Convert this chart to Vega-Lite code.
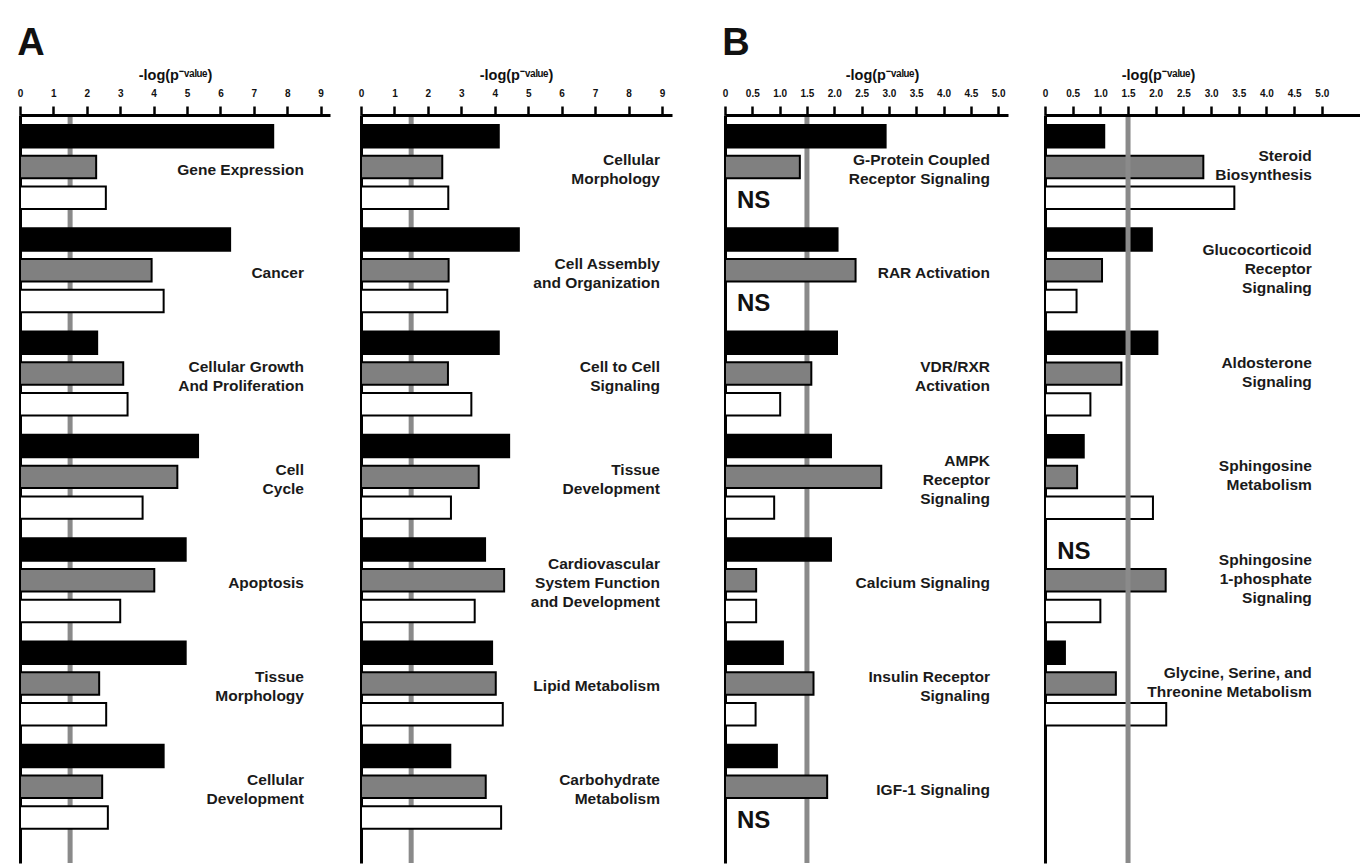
{
  "$schema": "https://vega.github.io/schema/vega-lite/v6.json",
  "padding": {"left": 17, "top": 25, "right": 0, "bottom": 0},
  "spacing": 50,
  "config": {
    "view": {"stroke": null},
    "font": "Liberation Sans",
    "axis": {"ticks": true, "tickSize": 9, "tickWidth": 2.5, "tickColor": "#000", "tickOpacity": 1, "zindex": 1},
    "axisX": {"orient": "top", "grid": false, "ticks": true, "domainWidth": 3, "domainColor": "#000", "tickWidth": 2.5, "tickColor": "#000", "tickSize": 9, "labelFontSize": 10, "labelFontWeight": "bold", "labelColor": "#111", "labelPadding": 8, "labelFlush": false, "labelOverlap": false, "titleFontSize": 14.5, "titleFontWeight": "bold", "titleColor": "#111", "titlePadding": 6, "zindex": 1},
    "axisY": {"title": null, "labels": false, "ticks": false, "grid": false, "domainWidth": 3, "domainColor": "#000"},
    "title": {"fontSize": 38, "fontWeight": "bold", "font": "Liberation Sans", "anchor": "start", "color": "#111"}
  },
  "datasets": {
    "a1": [
      {"cat": "Gene Expression", "series": "S1", "value": 7.58},
      {"cat": "Gene Expression", "series": "S2", "value": 2.28},
      {"cat": "Gene Expression", "series": "S3", "value": 2.57},
      {"cat": "Cancer", "series": "S1", "value": 6.29},
      {"cat": "Cancer", "series": "S2", "value": 3.94},
      {"cat": "Cancer", "series": "S3", "value": 4.30},
      {"cat": "Cellular Growth\nAnd Proliferation", "series": "S1", "value": 2.31},
      {"cat": "Cellular Growth\nAnd Proliferation", "series": "S2", "value": 3.09},
      {"cat": "Cellular Growth\nAnd Proliferation", "series": "S3", "value": 3.22},
      {"cat": "Cell\nCycle", "series": "S1", "value": 5.33},
      {"cat": "Cell\nCycle", "series": "S2", "value": 4.71},
      {"cat": "Cell\nCycle", "series": "S3", "value": 3.67},
      {"cat": "Apoptosis", "series": "S1", "value": 4.96},
      {"cat": "Apoptosis", "series": "S2", "value": 4.02},
      {"cat": "Apoptosis", "series": "S3", "value": 3.00},
      {"cat": "Tissue\nMorphology", "series": "S1", "value": 4.96},
      {"cat": "Tissue\nMorphology", "series": "S2", "value": 2.37},
      {"cat": "Tissue\nMorphology", "series": "S3", "value": 2.58},
      {"cat": "Cellular\nDevelopment", "series": "S1", "value": 4.30},
      {"cat": "Cellular\nDevelopment", "series": "S2", "value": 2.46},
      {"cat": "Cellular\nDevelopment", "series": "S3", "value": 2.63}
    ],
    "a2": [
      {"cat": "Cellular\nMorphology", "series": "S1", "value": 4.12},
      {"cat": "Cellular\nMorphology", "series": "S2", "value": 2.43},
      {"cat": "Cellular\nMorphology", "series": "S3", "value": 2.61},
      {"cat": "Cell Assembly\nand Organization", "series": "S1", "value": 4.72},
      {"cat": "Cell Assembly\nand Organization", "series": "S2", "value": 2.62},
      {"cat": "Cell Assembly\nand Organization", "series": "S3", "value": 2.58},
      {"cat": "Cell to Cell\nSignaling", "series": "S1", "value": 4.12},
      {"cat": "Cell to Cell\nSignaling", "series": "S2", "value": 2.60},
      {"cat": "Cell to Cell\nSignaling", "series": "S3", "value": 3.30},
      {"cat": "Tissue\nDevelopment", "series": "S1", "value": 4.43},
      {"cat": "Tissue\nDevelopment", "series": "S2", "value": 3.52},
      {"cat": "Tissue\nDevelopment", "series": "S3", "value": 2.69},
      {"cat": "Cardiovascular\nSystem Function\nand Development", "series": "S1", "value": 3.71},
      {"cat": "Cardiovascular\nSystem Function\nand Development", "series": "S2", "value": 4.28},
      {"cat": "Cardiovascular\nSystem Function\nand Development", "series": "S3", "value": 3.40},
      {"cat": "Lipid Metabolism", "series": "S1", "value": 3.92},
      {"cat": "Lipid Metabolism", "series": "S2", "value": 4.03},
      {"cat": "Lipid Metabolism", "series": "S3", "value": 4.24},
      {"cat": "Carbohydrate\nMetabolism", "series": "S1", "value": 2.67},
      {"cat": "Carbohydrate\nMetabolism", "series": "S2", "value": 3.73},
      {"cat": "Carbohydrate\nMetabolism", "series": "S3", "value": 4.19}
    ],
    "b1": [
      {"cat": "G-Protein Coupled\nReceptor Signaling", "series": "S1", "value": 2.94},
      {"cat": "G-Protein Coupled\nReceptor Signaling", "series": "S2", "value": 1.37},
      {"cat": "G-Protein Coupled\nReceptor Signaling", "series": "S3", "value": null, "ns": "NS"},
      {"cat": "RAR Activation", "series": "S1", "value": 2.06},
      {"cat": "RAR Activation", "series": "S2", "value": 2.39},
      {"cat": "RAR Activation", "series": "S3", "value": null, "ns": "NS"},
      {"cat": "VDR/RXR\nActivation", "series": "S1", "value": 2.05},
      {"cat": "VDR/RXR\nActivation", "series": "S2", "value": 1.58},
      {"cat": "VDR/RXR\nActivation", "series": "S3", "value": 1.01},
      {"cat": "AMPK\nReceptor\nSignaling", "series": "S1", "value": 1.94},
      {"cat": "AMPK\nReceptor\nSignaling", "series": "S2", "value": 2.86},
      {"cat": "AMPK\nReceptor\nSignaling", "series": "S3", "value": 0.90},
      {"cat": "Calcium Signaling", "series": "S1", "value": 1.94},
      {"cat": "Calcium Signaling", "series": "S2", "value": 0.57},
      {"cat": "Calcium Signaling", "series": "S3", "value": 0.57},
      {"cat": "Insulin Receptor\nSignaling", "series": "S1", "value": 1.06},
      {"cat": "Insulin Receptor\nSignaling", "series": "S2", "value": 1.62},
      {"cat": "Insulin Receptor\nSignaling", "series": "S3", "value": 0.56},
      {"cat": "IGF-1 Signaling", "series": "S1", "value": 0.95},
      {"cat": "IGF-1 Signaling", "series": "S2", "value": 1.87},
      {"cat": "IGF-1 Signaling", "series": "S3", "value": null, "ns": "NS"}
    ],
    "b2": [
      {"cat": "Steroid\nBiosynthesis", "series": "S1", "value": 1.07},
      {"cat": "Steroid\nBiosynthesis", "series": "S2", "value": 2.86},
      {"cat": "Steroid\nBiosynthesis", "series": "S3", "value": 3.42},
      {"cat": "Glucocorticoid\nReceptor\nSignaling", "series": "S1", "value": 1.93},
      {"cat": "Glucocorticoid\nReceptor\nSignaling", "series": "S2", "value": 1.03},
      {"cat": "Glucocorticoid\nReceptor\nSignaling", "series": "S3", "value": 0.57},
      {"cat": "Aldosterone\nSignaling", "series": "S1", "value": 2.03},
      {"cat": "Aldosterone\nSignaling", "series": "S2", "value": 1.38},
      {"cat": "Aldosterone\nSignaling", "series": "S3", "value": 0.82},
      {"cat": "Sphingosine\nMetabolism", "series": "S1", "value": 0.70},
      {"cat": "Sphingosine\nMetabolism", "series": "S2", "value": 0.58},
      {"cat": "Sphingosine\nMetabolism", "series": "S3", "value": 1.95},
      {"cat": "Sphingosine\n1-phosphate\nSignaling", "series": "S1", "value": null, "ns": "NS"},
      {"cat": "Sphingosine\n1-phosphate\nSignaling", "series": "S2", "value": 2.18},
      {"cat": "Sphingosine\n1-phosphate\nSignaling", "series": "S3", "value": 1.00},
      {"cat": "Glycine, Serine, and\nThreonine Metabolism", "series": "S1", "value": 0.36},
      {"cat": "Glycine, Serine, and\nThreonine Metabolism", "series": "S2", "value": 1.28},
      {"cat": "Glycine, Serine, and\nThreonine Metabolism", "series": "S3", "value": 2.19}
    ]
  },
  "hconcat": [
    {
      "title": {"text": "A", "offset": 4},
      "spacing": 28,
      "hconcat": [
        {
          "width": 310, "height": 748,
          "data": {"name": "a1"},
          "resolve": {"scale": {"yOffset": "independent"}},
          "layer": [
            {"data": {"values": [{}]}, "mark": {"type": "rule", "color": "#8a8a8a", "strokeWidth": 5},
             "encoding": {"x": {"datum": 1.5, "type": "quantitative", "scale": {"domain": [0, 9.28], "nice": false}, "axis": {"values": [0, 1, 2, 3, 4, 5, 6, 7, 8, 9], "title": "-log(p⁻ᵛᵃˡᵘᵉ)", "titleX": 155, "ticks": true, "tickSize": 9, "tickWidth": 2.5, "tickColor": "#000", "labelOverlap": false, "zindex": 1}}}},
            {"mark": {"type": "bar", "stroke": "#000", "strokeWidth": 2},
             "encoding": {
               "y": {"field": "cat", "type": "nominal", "sort": null, "scale": {"paddingInner": 0, "paddingOuter": 0.12, "align": 0.4}},
               "yOffset": {"field": "series", "type": "nominal", "scale": {"domain": ["S1", "S2", "S3"], "range": [0, 84], "paddingInner": 0.27, "paddingOuter": 0}},
               "x": {"field": "value", "type": "quantitative", "scale": {"domain": [0, 9.28], "nice": false}, "axis": {"values": [0, 1, 2, 3, 4, 5, 6, 7, 8, 9], "title": "-log(p⁻ᵛᵃˡᵘᵉ)", "titleX": 155, "ticks": true, "tickSize": 9, "tickWidth": 2.5, "tickColor": "#000", "labelOverlap": false, "zindex": 1}},
               "fill": {"field": "series", "type": "nominal", "scale": {"domain": ["S1", "S2", "S3"], "range": ["#000000", "#808080", "#ffffff"]}, "legend": null}
             }},
            {"transform": [{"filter": "datum.series == 'S2'"}, {"calculate": "length(split(datum.cat, '\\n'))", "as": "nlines"}],
             "mark": {"type": "text", "align": "right", "baseline": "middle", "fontSize": 15.5, "fontWeight": "bold", "lineBreak": "\n", "lineHeight": 19, "color": "#1a1a1a"},
             "encoding": {"y": {"field": "cat", "type": "nominal", "sort": null},
               "yOffset": {"field": "nlines", "type": "quantitative", "scale": {"domain": [1, 3], "range": [45, 26], "zero": false, "nice": false}},
               "x": {"datum": 8.5, "type": "quantitative", "axis": {"values": [0, 1, 2, 3, 4, 5, 6, 7, 8, 9], "title": "-log(p⁻ᵛᵃˡᵘᵉ)", "titleX": 155, "ticks": true, "tickSize": 9, "tickWidth": 2.5, "tickColor": "#000", "labelOverlap": false, "zindex": 1}}, "text": {"field": "cat"}}}
          ]
        },
        {
          "width": 311, "height": 748,
          "data": {"name": "a2"},
          "resolve": {"scale": {"yOffset": "independent"}},
          "layer": [
            {"data": {"values": [{}]}, "mark": {"type": "rule", "color": "#8a8a8a", "strokeWidth": 5},
             "encoding": {"x": {"datum": 1.5, "type": "quantitative", "scale": {"domain": [0, 9.3], "nice": false}, "axis": {"values": [0, 1, 2, 3, 4, 5, 6, 7, 8, 9], "title": "-log(p⁻ᵛᵃˡᵘᵉ)", "titleX": 155, "ticks": true, "tickSize": 9, "tickWidth": 2.5, "tickColor": "#000", "labelOverlap": false, "zindex": 1}}}},
            {"mark": {"type": "bar", "stroke": "#000", "strokeWidth": 2},
             "encoding": {
               "y": {"field": "cat", "type": "nominal", "sort": null, "scale": {"paddingInner": 0, "paddingOuter": 0.12, "align": 0.4}},
               "yOffset": {"field": "series", "type": "nominal", "scale": {"domain": ["S1", "S2", "S3"], "range": [0, 84], "paddingInner": 0.27, "paddingOuter": 0}},
               "x": {"field": "value", "type": "quantitative", "scale": {"domain": [0, 9.3], "nice": false}, "axis": {"values": [0, 1, 2, 3, 4, 5, 6, 7, 8, 9], "title": "-log(p⁻ᵛᵃˡᵘᵉ)", "titleX": 155, "ticks": true, "tickSize": 9, "tickWidth": 2.5, "tickColor": "#000", "labelOverlap": false, "zindex": 1}},
               "fill": {"field": "series", "type": "nominal", "scale": {"domain": ["S1", "S2", "S3"], "range": ["#000000", "#808080", "#ffffff"]}, "legend": null}
             }},
            {"transform": [{"filter": "datum.series == 'S2'"}, {"calculate": "length(split(datum.cat, '\\n'))", "as": "nlines"}],
             "mark": {"type": "text", "align": "right", "baseline": "middle", "fontSize": 15.5, "fontWeight": "bold", "lineBreak": "\n", "lineHeight": 19, "color": "#1a1a1a"},
             "encoding": {"y": {"field": "cat", "type": "nominal", "sort": null},
               "yOffset": {"field": "nlines", "type": "quantitative", "scale": {"domain": [1, 3], "range": [45, 26], "zero": false, "nice": false}},
               "x": {"datum": 8.94, "type": "quantitative", "axis": {"values": [0, 1, 2, 3, 4, 5, 6, 7, 8, 9], "title": "-log(p⁻ᵛᵃˡᵘᵉ)", "titleX": 155, "ticks": true, "tickSize": 9, "tickWidth": 2.5, "tickColor": "#000", "labelOverlap": false, "zindex": 1}}, "text": {"field": "cat"}}}
          ]
        }
      ]
    },
    {
      "title": {"text": "B", "offset": 4},
      "spacing": 34,
      "hconcat": [
        {
          "width": 283, "height": 748,
          "data": {"name": "b1"},
          "resolve": {"scale": {"yOffset": "independent"}},
          "layer": [
            {"data": {"values": [{}]}, "mark": {"type": "rule", "color": "#8a8a8a", "strokeWidth": 5},
             "encoding": {"x": {"datum": 1.5, "type": "quantitative", "scale": {"domain": [0, 5.18], "nice": false}, "axis": {"values": [0, 0.5, 1, 1.5, 2, 2.5, 3, 3.5, 4, 4.5, 5], "labelExpr": "datum.value == 0 ? '0' : format(datum.value, '.1f')", "title": "-log(p⁻ᵛᵃˡᵘᵉ)", "titleX": 157, "ticks": true, "tickSize": 9, "tickWidth": 2.5, "tickColor": "#000", "labelOverlap": false, "zindex": 1}}}},
            {"mark": {"type": "bar", "stroke": "#000", "strokeWidth": 2},
             "encoding": {
               "y": {"field": "cat", "type": "nominal", "sort": null, "scale": {"paddingInner": 0, "paddingOuter": 0.12, "align": 0.4}},
               "yOffset": {"field": "series", "type": "nominal", "scale": {"domain": ["S1", "S2", "S3"], "range": [0, 84], "paddingInner": 0.27, "paddingOuter": 0}},
               "x": {"field": "value", "type": "quantitative", "scale": {"domain": [0, 5.18], "nice": false}, "axis": {"values": [0, 0.5, 1, 1.5, 2, 2.5, 3, 3.5, 4, 4.5, 5], "labelExpr": "datum.value == 0 ? '0' : format(datum.value, '.1f')", "title": "-log(p⁻ᵛᵃˡᵘᵉ)", "titleX": 157, "ticks": true, "tickSize": 9, "tickWidth": 2.5, "tickColor": "#000", "labelOverlap": false, "zindex": 1}},
               "fill": {"field": "series", "type": "nominal", "scale": {"domain": ["S1", "S2", "S3"], "range": ["#000000", "#808080", "#ffffff"]}, "legend": null}
             }},
            {"transform": [{"filter": "datum.series == 'S2'"}, {"calculate": "length(split(datum.cat, '\\n'))", "as": "nlines"}],
             "mark": {"type": "text", "align": "right", "baseline": "middle", "fontSize": 15.5, "fontWeight": "bold", "lineBreak": "\n", "lineHeight": 19, "color": "#1a1a1a"},
             "encoding": {"y": {"field": "cat", "type": "nominal", "sort": null},
               "yOffset": {"field": "nlines", "type": "quantitative", "scale": {"domain": [1, 3], "range": [45, 26], "zero": false, "nice": false}},
               "x": {"datum": 4.85, "type": "quantitative", "axis": {"values": [0, 0.5, 1, 1.5, 2, 2.5, 3, 3.5, 4, 4.5, 5], "labelExpr": "datum.value == 0 ? '0' : format(datum.value, '.1f')", "title": "-log(p⁻ᵛᵃˡᵘᵉ)", "titleX": 157, "ticks": true, "tickSize": 9, "tickWidth": 2.5, "tickColor": "#000", "labelOverlap": false, "zindex": 1}}, "text": {"field": "cat"}}},
            {"transform": [{"filter": "datum.ns == 'NS'"}],
             "mark": {"type": "text", "align": "left", "baseline": "middle", "dy": 3, "fontSize": 24, "fontWeight": "bold", "color": "#111"},
             "encoding": {"y": {"field": "cat", "type": "nominal", "sort": null},
               "yOffset": {"field": "series", "type": "nominal", "scale": {"type": "band", "domain": ["S1", "S2", "S3"], "range": [0, 84], "paddingInner": 0.27, "paddingOuter": 0}},
               "x": {"datum": 0.22, "type": "quantitative", "axis": {"values": [0, 0.5, 1, 1.5, 2, 2.5, 3, 3.5, 4, 4.5, 5], "labelExpr": "datum.value == 0 ? '0' : format(datum.value, '.1f')", "title": "-log(p⁻ᵛᵃˡᵘᵉ)", "titleX": 157, "ticks": true, "tickSize": 9, "tickWidth": 2.5, "tickColor": "#000", "labelOverlap": false, "zindex": 1}}, "text": {"field": "ns"}}}
          ]
        },
        {
          "width": 315, "height": 748,
          "data": {"name": "b2"},
          "resolve": {"scale": {"yOffset": "independent"}},
          "layer": [
            {"mark": {"type": "bar", "stroke": "#000", "strokeWidth": 2},
             "encoding": {
               "y": {"field": "cat", "type": "nominal", "sort": null, "scale": {"paddingInner": 0, "paddingOuter": 0.62, "align": 0.078}},
               "yOffset": {"field": "series", "type": "nominal", "scale": {"domain": ["S1", "S2", "S3"], "range": [0, 84], "paddingInner": 0.27, "paddingOuter": 0}},
               "x": {"field": "value", "type": "quantitative", "scale": {"domain": [0, 5.69], "nice": false}, "axis": {"values": [0, 0.5, 1, 1.5, 2, 2.5, 3, 3.5, 4, 4.5, 5], "labelExpr": "datum.value == 0 ? '0' : format(datum.value, '.1f')", "title": "-log(p⁻ᵛᵃˡᵘᵉ)", "titleX": 113, "ticks": true, "tickSize": 9, "tickWidth": 2.5, "tickColor": "#000", "labelOverlap": false, "zindex": 1}},
               "fill": {"field": "series", "type": "nominal", "scale": {"domain": ["S1", "S2", "S3"], "range": ["#000000", "#808080", "#ffffff"]}, "legend": null}
             }},
            {"data": {"values": [{}]}, "mark": {"type": "rule", "color": "#8a8a8a", "strokeWidth": 5},
             "encoding": {"x": {"datum": 1.5, "type": "quantitative", "axis": {"values": [0, 0.5, 1, 1.5, 2, 2.5, 3, 3.5, 4, 4.5, 5], "labelExpr": "datum.value == 0 ? '0' : format(datum.value, '.1f')", "title": "-log(p⁻ᵛᵃˡᵘᵉ)", "titleX": 113, "ticks": true, "tickSize": 9, "tickWidth": 2.5, "tickColor": "#000", "labelOverlap": false, "zindex": 1}}}},
            {"transform": [{"filter": "datum.series == 'S2'"}, {"calculate": "length(split(datum.cat, '\\n'))", "as": "nlines"}],
             "mark": {"type": "text", "align": "right", "baseline": "middle", "fontSize": 15.5, "fontWeight": "bold", "lineBreak": "\n", "lineHeight": 19, "color": "#1a1a1a"},
             "encoding": {"y": {"field": "cat", "type": "nominal", "sort": null},
               "yOffset": {"field": "nlines", "type": "quantitative", "scale": {"domain": [1, 3], "range": [41, 22], "zero": false, "nice": false}},
               "x": {"datum": 4.82, "type": "quantitative", "axis": {"values": [0, 0.5, 1, 1.5, 2, 2.5, 3, 3.5, 4, 4.5, 5], "labelExpr": "datum.value == 0 ? '0' : format(datum.value, '.1f')", "title": "-log(p⁻ᵛᵃˡᵘᵉ)", "titleX": 113, "ticks": true, "tickSize": 9, "tickWidth": 2.5, "tickColor": "#000", "labelOverlap": false, "zindex": 1}}, "text": {"field": "cat"}}},
            {"transform": [{"filter": "datum.ns == 'NS'"}],
             "mark": {"type": "text", "align": "left", "baseline": "middle", "dy": 3, "fontSize": 24, "fontWeight": "bold", "color": "#111"},
             "encoding": {"y": {"field": "cat", "type": "nominal", "sort": null},
               "yOffset": {"field": "series", "type": "nominal", "scale": {"type": "band", "domain": ["S1", "S2", "S3"], "range": [0, 84], "paddingInner": 0.27, "paddingOuter": 0}},
               "x": {"datum": 0.22, "type": "quantitative", "axis": {"values": [0, 0.5, 1, 1.5, 2, 2.5, 3, 3.5, 4, 4.5, 5], "labelExpr": "datum.value == 0 ? '0' : format(datum.value, '.1f')", "title": "-log(p⁻ᵛᵃˡᵘᵉ)", "titleX": 113, "ticks": true, "tickSize": 9, "tickWidth": 2.5, "tickColor": "#000", "labelOverlap": false, "zindex": 1}}, "text": {"field": "ns"}}}
          ]
        }
      ]
    }
  ]
}
